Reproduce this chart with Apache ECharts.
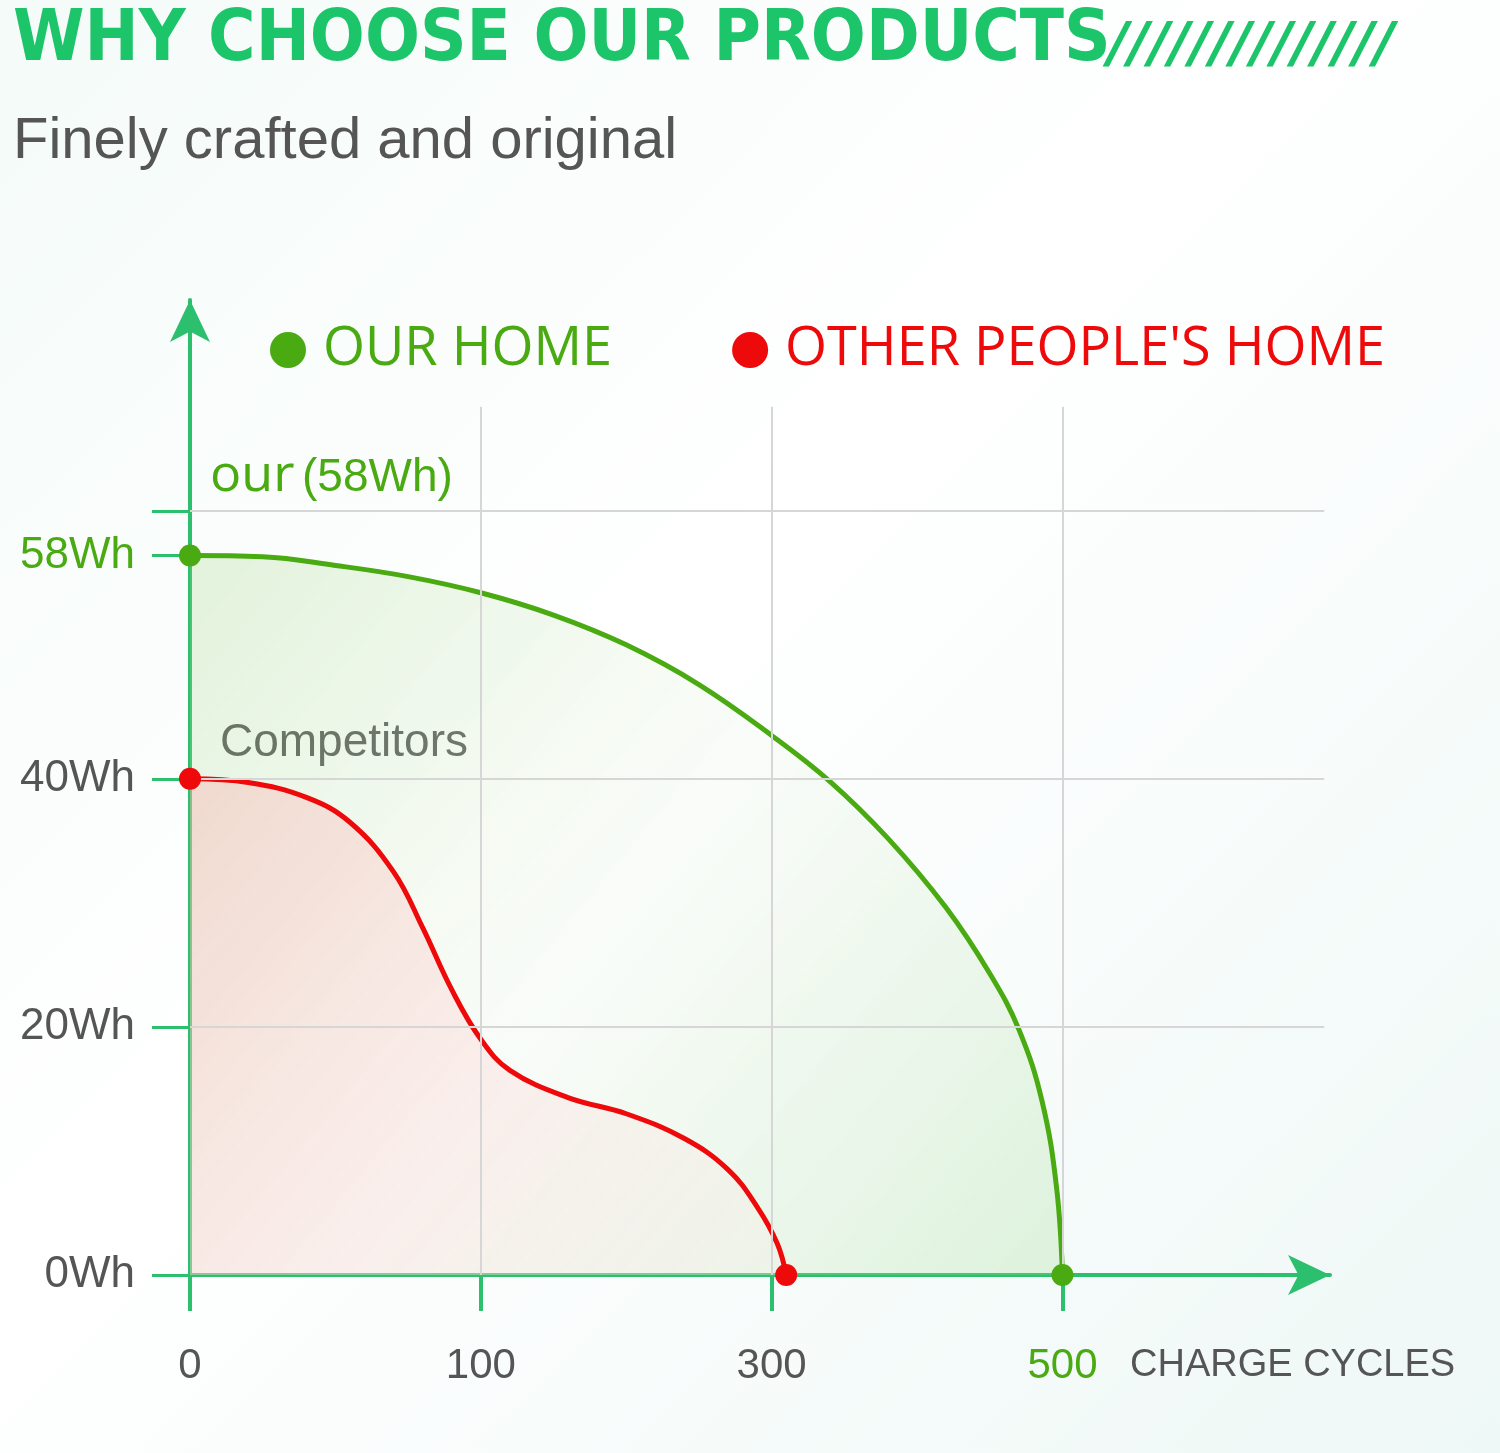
<!DOCTYPE html>
<html><head><meta charset="utf-8">
<script src="https://cdn.jsdelivr.net/npm/echarts@6/dist/echarts.min.js"></script>
<style>html,body{margin:0;padding:0;}#c{width:1500px;height:1453px;background:linear-gradient(135deg,#f4fbf8 0%,#ffffff 45%,#eef8f6 100%);}</style>
</head><body><div id="c"></div>
<script>
// x positions are evenly spaced slots, labelled by cycle count
const xSlots = [0, 1, 2, 3];
const xLabels = ["0", "100", "300", "500"];
const yTicks = [0, 20, 40, 58];
const yLabels = ["0Wh", "20Wh", "40Wh", "58Wh"];
const gridY = [20, 40, 61.6];
const ourX = [0, 0.25, 0.5, 0.75, 1, 1.25, 1.5, 1.75, 2, 2.2, 2.4, 2.6, 2.75, 2.85, 2.93, 2.98, 3];
const ourY = [58, 57.9, 57.2, 56.3, 55.0, 53.2, 50.8, 47.6, 43.5, 39.8, 35.2, 29.6, 24.3, 19.8, 14, 7, 0];
const compX = [0, 0.2, 0.4, 0.55, 0.7, 0.8, 0.9, 1.0, 1.1, 1.3, 1.5, 1.7, 1.85, 1.95, 2.02, 2.05];
const compY = [40, 39.7, 38.5, 36.5, 32.5, 28, 23, 19, 16.5, 14.3, 13, 11, 8.5, 5.5, 2.5, 0];

const green = "#4aaa12", red = "#ee0a0a", axisGreen = "#2cbf6e", gray = "#555";
const chart = echarts.init(document.getElementById("c"));

const zip = (a, b) => a.map((v, i) => [v, b[i]]);
const endMarks = (xs, ys, color) => ({
  symbol: "circle", symbolSize: 22,
  itemStyle: { color: color },
  data: [{ coord: [xs[0], ys[0]] }, { coord: [xs[xs.length - 1], ys[ys.length - 1]] }],
  label: { show: false }
});

chart.setOption({
  title: [
    { text: "WHY CHOOSE OUR PRODUCTS", left: 8, top: 0,
      textStyle: { fontFamily: "DejaVu Sans Condensed", fontWeight: "bold", fontSize: 72, color: "#1cc46a" } },
    { text: "Finely crafted and original", left: 8, top: 108,
      textStyle: { fontFamily: "Liberation Sans", fontWeight: "normal", fontSize: 58, color: gray } }
  ],
  legend: {
    top: 318, left: 265, itemGap: 120, icon: "circle", itemWidth: 36, itemHeight: 36,
    data: [
      { name: "OUR HOME", textStyle: { color: green } },
      { name: "OTHER PEOPLE'S HOME", textStyle: { color: red } }
    ],
    textStyle: { fontSize: 54, fontFamily: "Open Sans", padding: [0, 0, 0, 12] }
  },
  grid: { left: 190, right: 170, top: 300, bottom: 178 },
  xAxis: {
    type: "value", min: 0, max: 3.92,
    axisLine: { lineStyle: { color: axisGreen, width: 4 }, symbol: ["none", "arrow"], symbolSize: [30, 42] },
    axisTick: { show: true, inside: false, length: 36, customValues: xSlots, lineStyle: { color: axisGreen, width: 4 } },
    splitLine: { show: false },
    axisLabel: {
      customValues: xSlots, margin: 70, fontSize: 42, fontFamily: "Liberation Sans",
      formatter: v => { const i = xSlots.indexOf(v); return i < 0 ? "" : (i === 3 ? "{g|" + xLabels[i] + "}" : xLabels[i]); },
      color: gray, rich: { g: { color: green, fontSize: 42, fontFamily: "Liberation Sans" } }
    }
  },
  yAxis: {
    type: "value", min: 0, max: 78.6,
    axisLine: { onZero: false, lineStyle: { color: axisGreen, width: 4 }, symbol: ["none", "arrow"], symbolSize: [30, 42] },
    axisTick: { show: true, length: 38, customValues: yTicks.concat([61.6]), lineStyle: { color: axisGreen, width: 3 } },
    splitLine: { show: false },
    axisLabel: {
      customValues: yTicks, margin: 55, fontSize: 44, fontFamily: "Liberation Sans", color: gray,
      formatter: v => { const i = yTicks.indexOf(v); return i < 0 ? "" : (i === 3 ? "{g|" + yLabels[i] + "}" : yLabels[i]); },
      rich: { g: { color: green, fontSize: 44, fontFamily: "Liberation Sans" } }
    }
  },
  graphic: [
    { type: "text", left: 1108, top: 18, style: { text: "//////////////", fontSize: 56, fontWeight: "bold", fontStyle: "italic", fill: "#1cc46a", fontFamily: "DejaVu Sans" } },
    { type: "text", left: 210, top: 450, style: { text: "our", fontSize: 52, fill: green, fontFamily: "Open Sans" } },
    { type: "text", left: 302, top: 455, style: { text: "(58Wh)", fontSize: 46, fill: green, fontFamily: "Liberation Sans" } },
    { type: "text", left: 220, top: 720, style: { text: "Competitors", fontSize: 46, fill: gray, fontFamily: "Liberation Sans" } },
    { type: "text", left: 1130, top: 1347, style: { text: "CHARGE CYCLES", fontSize: 38, fill: gray, fontFamily: "Liberation Sans" } }
  ],
  series: [
    {
      name: "OUR HOME", type: "line", smooth: 0.4, showSymbol: false, z: 3,
      itemStyle: { color: green },
      lineStyle: { color: green, width: 5 },
      areaStyle: { color: new echarts.graphic.LinearGradient(0, 0, 1, 1, [
        { offset: 0, color: "rgba(150,210,120,0.35)" }, { offset: 0.5, color: "rgba(235,245,230,0.3)" }, { offset: 1, color: "rgba(150,215,130,0.35)" }]) },
      data: zip(ourX, ourY),
      markPoint: endMarks(ourX, ourY, green),
      markLine: {
        silent: true, symbol: "none", label: { show: false },
        lineStyle: { color: "#d6d6d6", width: 2, type: "solid" },
        data: gridY.map(y => [{ coord: [0, y] }, { coord: [3.9, y] }])
          .concat(xSlots.slice(1).map(x => [{ coord: [x, 0] }, { coord: [x, 70] }]))
      }
    },
    {
      name: "OTHER PEOPLE'S HOME", type: "line", smooth: 0.4, showSymbol: false, z: 4,
      itemStyle: { color: red },
      lineStyle: { color: red, width: 5 },
      areaStyle: { color: new echarts.graphic.LinearGradient(0, 0, 1, 1, [
        { offset: 0, color: "rgba(250,170,170,0.55)" }, { offset: 1, color: "rgba(255,235,235,0.3)" }]) },
      data: zip(compX, compY),
      markPoint: endMarks(compX, compY, red)
    }
  ]
});
</script></body></html>
